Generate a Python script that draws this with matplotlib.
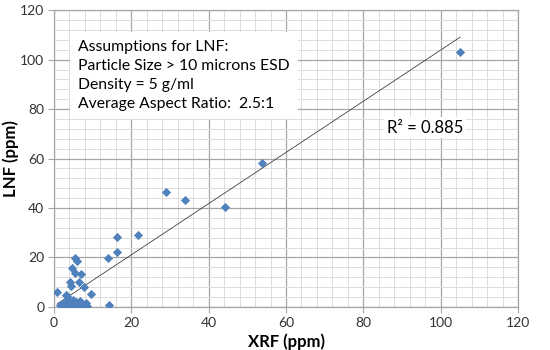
import matplotlib.pyplot as plt
import numpy as np

plt.rcParams['font.family'] = ['Lato', 'DejaVu Sans']

# XRF vs LNF values (ppm)
xrf = [105, 53.8, 44.2, 33.8, 29.0, 21.8, 16.4, 16.4, 14.0, 14.3,
       0.9, 1.5, 5.4, 6.1, 4.8, 5.5, 6.9, 4.2, 4.3, 6.6,
       7.8, 9.7, 3.0, 3.5, 8.3, 8.5, 2.2, 2.8, 3.4, 3.9,
       4.4, 4.8, 5.2, 5.7, 6.2, 6.8, 7.2, 3.1, 4.0, 4.6,
       5.0, 5.6, 6.0, 2.5, 3.6]
lnf = [103, 58.2, 40.3, 43.3, 46.6, 28.9, 28.1, 22.3, 19.6, 0.9,
       6.2, 0.6, 19.8, 18.7, 15.7, 13.9, 13.4, 9.9, 8.4, 10.1,
       7.9, 5.4, 4.8, 4.6, 1.6, 0.2, 1.0, 1.8, 2.6, 3.0,
       2.2, 1.4, 0.8, 1.9, 1.2, 2.5, 0.9, 0.3, 0.5, 0.2,
       2.9, 0.4, 0.1, 0.3, 1.2]
r2_text = "R² = 0.885"
notes = ["Assumptions for LNF:",
         "Particle Size > 10 microns ESD",
         "Density = 5 g/ml",
         "Average Aspect Ratio:  2.5:1"]

fig = plt.figure(figsize=(5.5, 3.5), dpi=100)
ax = fig.add_axes([0.098, 0.123, 0.844, 0.848])

ax.scatter(xrf, lnf, marker='D', s=22, color='#4f81bd', zorder=3, linewidths=0)

# linear trend line over the data range
k, b = np.polyfit(xrf, lnf, 1)
xs = np.array([min(xrf), max(xrf)])
ax.plot(xs, k * xs + b, color='#404040', lw=0.6, zorder=2)

ax.set_xlim(0, 120)
ax.set_ylim(0, 120)
ax.set_xticks(np.arange(0, 121, 20))
ax.set_yticks(np.arange(0, 121, 20))
ax.set_xticks(np.arange(0, 121, 4), minor=True)
ax.set_yticks(np.arange(0, 121, 4), minor=True)
ax.grid(which='major', color='#a6a6a6', lw=0.9)
ax.grid(which='minor', color='#dcdcdc', lw=0.7)
ax.set_axisbelow(True)
ax.tick_params(which='minor', length=0)
ax.tick_params(which='major', length=4, color='#a6a6a6', labelsize=10,
               labelcolor='#333333', pad=3)
for s in ax.spines.values():
    s.set_color('#a6a6a6')
    s.set_linewidth(0.9)

ax.set_xlabel("XRF (ppm)", fontsize=12, fontweight='bold')
ax.set_ylabel("LNF (ppm)", fontsize=12, fontweight='bold')
ax.xaxis.set_label_coords(0.5, -0.088)
ax.yaxis.set_label_coords(-0.075, 0.5)

ax.text(6.2, 93.5, "\n".join(notes), fontsize=11.3,
        va='center', ha='left', linespacing=1.45,
        bbox=dict(facecolor='white', edgecolor='none', pad=6), zorder=4)
ax.text(86, 72.5, r2_text, fontsize=12, va='center', ha='left',
        bbox=dict(facecolor='white', edgecolor='none', pad=2), zorder=4)

fig.savefig("out.png", dpi=100)
